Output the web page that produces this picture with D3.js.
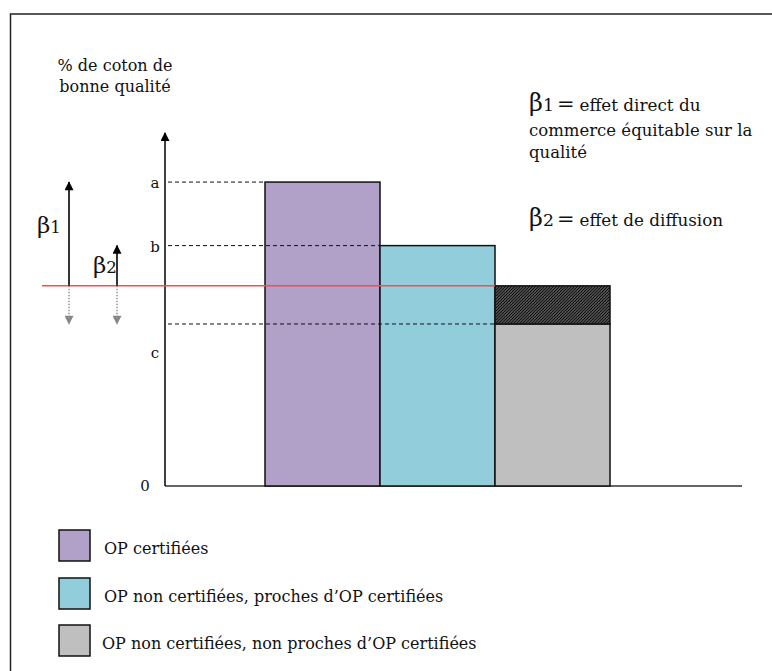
<!DOCTYPE html>
<html><head><meta charset="utf-8">
<script src="https://cdn.jsdelivr.net/npm/d3@7"></script>
<style>
html,body{margin:0;padding:0;background:#fff;}
svg{display:block;}
text{font-family:"DejaVu Serif","Liberation Serif",serif;fill:#111;}
</style></head>
<body>
<script>
// ---- data ----
const categories = ["OP certifiées", "OP non certifiées, proches d’OP certifiées", "OP non certifiées, non proches d’OP certifiées"];
const barValues = [86.1, 68.1, 45.9];           // a, b, c
const levelLabels = ["a", "b", "c"];
const counterfactual = 56.7;                      // red line level (top of hatched part)
const colors = ["#B1A0C7", "#92CDDC", "#BFBFBF"];
const yLabelLines = ["% de coton de", "bonne qualité"];
const noteLines1 = ["effet direct du", "commerce équitable sur la", "qualité"];
const noteLine2 = "effet de diffusion";

const W = 772, H = 671;
const svg = d3.select("body").append("svg").attr("width", W).attr("height", H);

const defs = svg.append("defs");
function mk(id, col){
  defs.append("marker").attr("id",id).attr("viewBox","0 0 10 10").attr("refX",9).attr("refY",5)
    .attr("markerWidth",10).attr("markerHeight",9).attr("markerUnits","userSpaceOnUse").attr("orient","auto")
    .append("path").attr("d","M0,0 L10,5 L0,10 Z").attr("fill",col);
}
mk("ah","#000"); mk("ahg","#888");
const pat = defs.append("pattern").attr("id","hatch").attr("patternUnits","userSpaceOnUse")
  .attr("width",3).attr("height",3);
pat.append("rect").attr("width",3).attr("height",3).attr("fill","#7a7a7a");
pat.append("path").attr("d","M0,3 L3,0 M-1,1 L1,-1 M2,4 L4,2").attr("stroke","#111").attr("stroke-width",1.3);

// frame
svg.append("rect").attr("x",10.5).attr("y",14).attr("width",W).attr("height",H)
  .attr("fill","none").attr("stroke","#222").attr("stroke-width",1.5);

// scales
const y = d3.scaleLinear().domain([0,100]).range([486,133]);
const x = d3.scaleBand().domain(categories).range([265,610]).padding(0);
const axisX = 165;

// axes
svg.append("line").attr("x1",axisX).attr("x2",742).attr("y1",y(0)).attr("y2",y(0))
  .attr("stroke","#333").attr("stroke-width",1.5);
svg.append("line").attr("x1",axisX).attr("x2",axisX).attr("y1",y(0)).attr("y2",y(100))
  .attr("stroke","#000").attr("stroke-width",1.5).attr("marker-end","url(#ah)");

// bars
svg.selectAll("rect.bar").data(categories).enter().append("rect")
  .attr("x",d=>x(d)).attr("width",x.bandwidth())
  .attr("y",(d,i)=>y(barValues[i])).attr("height",(d,i)=>y(0)-y(barValues[i]))
  .attr("fill",(d,i)=>colors[i]).attr("stroke","#111").attr("stroke-width",1.5);

// hatched part on last bar
const last = categories[2];
svg.append("rect").attr("x",x(last)).attr("width",x.bandwidth())
  .attr("y",y(counterfactual)).attr("height",y(barValues[2])-y(counterfactual))
  .attr("fill","url(#hatch)").attr("stroke","#111").attr("stroke-width",1.5);

// dashed guide lines
svg.selectAll("line.guide").data(categories).enter().append("line")
  .attr("x1",axisX+3).attr("x2",d=>x(d)).attr("y1",(d,i)=>y(barValues[i])).attr("y2",(d,i)=>y(barValues[i]))
  .attr("stroke","#111").attr("stroke-width",1).attr("stroke-dasharray","4,3");

// level labels
const labelOffsets = [6, 6, 34];
svg.selectAll("text.lvl").data(levelLabels).enter().append("text")
  .attr("x",155).attr("y",(d,i)=>y(barValues[i])+labelOffsets[i]).attr("text-anchor","middle")
  .attr("font-size",15).text(d=>d);
svg.append("text").attr("x",145).attr("y",y(0)+5).attr("text-anchor","middle").attr("font-size",15).text("0");

// red line
svg.append("line").attr("x1",42).attr("x2",x(last)).attr("y1",y(counterfactual)).attr("y2",y(counterfactual))
  .attr("stroke","#FF4A4A").attr("stroke-width",1.5);

// beta arrows
const arrowXs = [69, 117];
const arrowTops = [barValues[0], barValues[1]];
arrowXs.forEach((ax,i)=>{
  svg.append("line").attr("x1",ax).attr("x2",ax).attr("y1",y(counterfactual)).attr("y2",y(arrowTops[i]))
    .attr("stroke","#000").attr("stroke-width",1.6).attr("marker-end","url(#ah)");
  svg.append("line").attr("x1",ax).attr("x2",ax).attr("y1",y(counterfactual)).attr("y2",y(barValues[2]))
    .attr("stroke","#888").attr("stroke-width",1.3).attr("stroke-dasharray","1.5,1.5").attr("marker-end","url(#ahg)");
});
function beta(xp, yp, n, size){
  const t = svg.append("text").attr("x",xp).attr("y",yp).attr("font-family","'Liberation Sans','DejaVu Sans',sans-serif").attr("font-size",size);
  t.append("tspan").text("β");
  t.append("tspan").attr("font-size",size*0.72).text(n);
  return t;
}
beta(37, 233, "1", 23);
beta(93, 273, "2", 23);

// y label
svg.selectAll("text.ylab").data(yLabelLines).enter().append("text")
  .attr("x",115).attr("y",(d,i)=>71+i*21).attr("text-anchor","middle").attr("font-size",16).text(d=>d);

// notes
function note(yp, n, txt){
  const t = beta(529, yp, n, 24);
  t.append("tspan").attr("dx",3).attr("font-size",21).text("=");
  t.append("tspan").attr("dx",5).attr("font-size",16.8).attr("font-family","'DejaVu Serif',serif").text(txt);
}
note(111, "1", noteLines1[0]);
svg.append("text").attr("x",529).attr("y",136).attr("font-size",16.5).text(noteLines1[1]);
svg.append("text").attr("x",529).attr("y",158).attr("font-size",16.5).text(noteLines1[2]);
note(226, "2", noteLine2);

// legend
const legY = [530, 578, 625];
const legTX = [104, 104, 102];
categories.forEach((c,i)=>{
  svg.append("rect").attr("x",59).attr("y",legY[i]).attr("width",31).attr("height",31)
    .attr("fill",colors[i]).attr("stroke","#111").attr("stroke-width",1.5);
  svg.append("text").attr("x",legTX[i]).attr("y",legY[i]+24).attr("font-size",16).text(c);
});
</script>
</body></html>
